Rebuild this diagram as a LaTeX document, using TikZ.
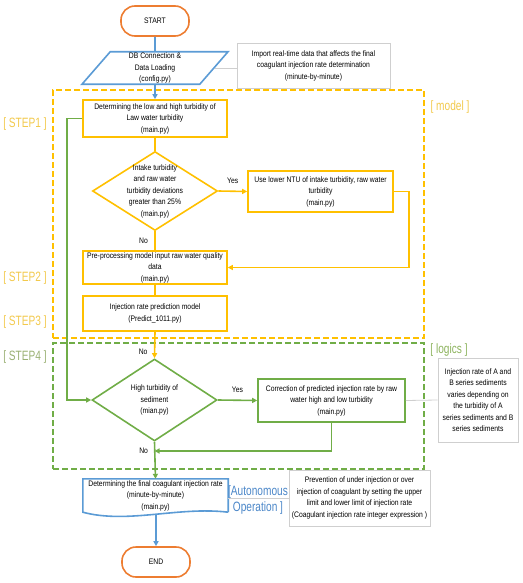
\documentclass[tikz,border=0pt]{standalone}
\usepackage{fontspec}
\setmainfont{Liberation Sans}[FakeStretch=0.85]
\newfontfamily\tagfont{Liberation Sans}[FakeStretch=0.75]
\usepackage{xcolor}
\usepackage{tikz}
\usetikzlibrary{shapes.geometric,arrows.meta,calc}
\definecolor{orng}{HTML}{ED7D31}
\definecolor{blu}{HTML}{5B9BD5}
\definecolor{yel}{HTML}{FFC000}
\definecolor{grn}{HTML}{70AD47}
\definecolor{yeltag}{HTML}{F2C94C}
\definecolor{grntag}{HTML}{8DB35E}
\definecolor{steptag}{HTML}{9AB073}
\definecolor{blutag}{HTML}{4A86C8}
\definecolor{notegray}{HTML}{CFCFCF}

\begin{document}
\begin{tikzpicture}[x=1pt,y=-1pt,
        font=\fontsize{8}{11.5}\selectfont,
        pill/.style={draw=orng,line width=1.6pt,rounded corners=14pt,minimum width=68pt,minimum height=30pt},
        stepbox/.style={draw=#1,line width=1.6pt,align=center,inner sep=1pt},
        decide/.style={diamond,draw=#1,line width=1.6pt,inner sep=0pt},
        note/.style={draw=notegray,line width=.6pt,fill=white,align=center,inner sep=1pt},
        zone/.style={draw=#1,line width=1.4pt,dash pattern=on 6pt off 3pt},
        tag/.style={text=#1,font=\tagfont\fontsize{13.5}{16}\selectfont,align=center},
        flow/.style={draw=#1,line width=1.6pt},
        flowarrow/.style={draw=#1,line width=1.6pt,-{Triangle[width=5pt,length=5pt]}},
        noteline/.style={draw=notegray,line width=.8pt}]
    \useasboundingbox (0,0) rectangle (522,583);
    % dashed zones
    \node[zone=yel,minimum width=371pt,minimum height=248pt] (model) at (238.5,214) {};
    \node[zone=grn,minimum width=371pt,minimum height=126pt] (logics) at (238.5,406) {};
    \node[tag=yeltag] (modeltag) at (450,107) {[ model ]};
    \node[tag=grntag] (logicstag) at (449,350) {[ logics ]};
    \node[tag=yeltag] (s1tag) at (25,124) {[ STEP1 ]};
    \node[tag=yeltag] (s2tag) at (25,278) {[ STEP2 ]};
    \node[tag=yeltag] (s3tag) at (25,322) {[ STEP3 ]};
    \node[tag=steptag] (s4tag) at (25,357) {[ STEP4 ]};
    % start and data loading
    \node[pill] (start) at (155,21) {START};
    \node[trapezium,trapezium left angle=49,trapezium right angle=131,trapezium stretches body,
        draw=blu,line width=1.6pt,minimum width=146pt,minimum height=32pt,inner sep=1pt,align=center]
        (db) at (155,68) {DB Connection \&\\Data Loading\\(config.py)};
    \node[note,minimum width=153pt,minimum height=45pt] (note1) at (313.5,65.5)
        {Import real-time data that affects the final\\coagulant injection rate determination\\(minute-by-minute)};
    % model steps
    \node[stepbox=yel,minimum width=144pt,minimum height=37pt] (step1) at (155,118.5)
        {Determining the low and high turbidity of\\Law water turbidity\\(main.py)};
    \node[decide=yel,minimum width=125pt,minimum height=79pt,
        label={[align=center]center:Intake turbidity\\and raw water\\turbidity deviations\\greater than 25\%\\(main.py)}]
        (dev) at (155,191) {};
    \node[stepbox=yel,minimum width=145pt,minimum height=41pt] (lowntu) at (320.5,191.5)
        {Use lower NTU of intake turbidity, raw water\\turbidity\\(main.py)};
    \node[stepbox=yel,minimum width=144pt,minimum height=33pt] (step2) at (155,267.5)
        {Pre-processing model input raw water quality\\data\\(main.py)};
    \node[stepbox=yel,minimum width=144pt,minimum height=35pt] (step3) at (155,313.5)
        {Injection rate prediction model\\(Predict\_1011.py)};
    % logics
    \node[decide=grn,minimum width=125pt,minimum height=82pt,
        label={[align=center]center:High turbidity of\\sediment\\(mian.py)}]
        (sed) at (154.5,400) {};
    \node[stepbox=grn,minimum width=147pt,minimum height=43pt] (corr) at (331.5,400.5)
        {Correction of predicted injection rate by raw\\water high and low turbidity\\(main.py)};
    \node[note,minimum width=80pt,minimum height=84pt] (note2) at (478,400)
        {Injection rate of A and\\B series sediments\\varies depending on\\the turbidity of A\\series sediments and B\\series sediments};
    \coordinate (join) at (154.5,451);
    % final rate and end
    \node[minimum width=145pt,minimum height=33pt,inner sep=1pt,align=center] (final) at (155.5,495.5)
        {Determining the final coagulant injection rate\\(minute-by-minute)\\(main.py)};
    \draw[flow=blu] (final.south east) -- (final.north east) -- (final.north west) -- (final.south west)
        .. controls +(45,12) and +(-50,-6) .. coordinate[pos=.5] (fb) (final.south east);
    \node[note,minimum width=141pt,minimum height=56pt] (note3) at (359.5,498)
        {Prevention of under injection or over\\injection of coagulant by setting the upper\\limit and lower limit of injection rate\\(Coagulant injection rate integer expression )};
    \draw[noteline] (note3.west -| final.east) -- (note3.west);
    \node[tag=blutag] (autotag) at (258,500) {[Autonomous\\Operation ]};
    \node[pill] (end) at (156,562) {END};
    % connectors
    \draw[flow=blu] (start.south) -- (db.north);
    \draw[flowarrow=blu] (db.south) -- (step1.north);
    \draw[noteline] (db.east) -- (db.east -| note1.west);
    \draw[flow=yel] (step1.south) -- (dev.north);
    \draw[flowarrow=yel] (dev.east) -- node[above=4pt,black] {Yes} (lowntu.west);
    \draw[flow=yel] (dev.south) -- node[left=3pt,black] {No} (step2.north);
    \draw[flowarrow=yel] (lowntu.east) -- ++(15,0) |- (step2.east);
    \draw[flow=yel] (step2.south) -- (step3.north);
    \draw[flowarrow=yel] (step3.south) -- node[pos=.75,left=3pt,black] {No} (sed.north);
    \draw[flowarrow=grn] (step1.west) -- ++(-15,0) |- (sed.west);
    \draw[flowarrow=grn] (sed.east) -- node[above=4pt,black] {Yes} (corr.west);
    \draw[noteline] (corr.east) -- (note2.west);
    \draw[flowarrow=grn] (corr.south) |- (join);
    \node[left=3pt] (no3) at (join) {No};
    \draw[flowarrow=grn] (sed.south) -- (final.north);
    \draw[flowarrow=blu] (fb -| end.north) -- (end.north);
\end{tikzpicture}
\end{document}
